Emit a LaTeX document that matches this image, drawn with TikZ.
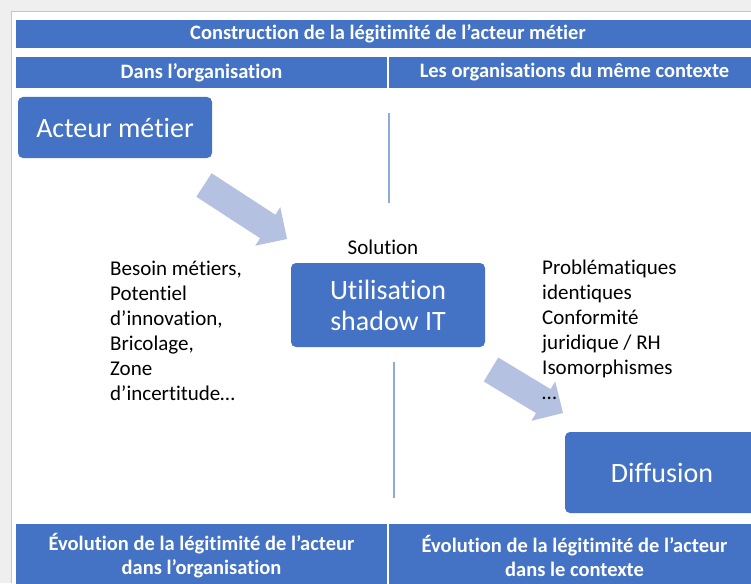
\documentclass[tikz,border=0pt]{standalone}
\usepackage{fontspec}
\setmainfont{Carlito}[Ligatures=NoCommon]
\usetikzlibrary{calc,positioning}
\definecolor{bleu}{HTML}{4472C4}
\definecolor{bleuclair}{HTML}{B4C1E0}
\definecolor{trait}{HTML}{8FAADC}
\definecolor{ombre}{HTML}{EFEFEF}
% flèche pleine : #2 = queue, #3 = pointe
\newcommand{\fleche}[3][14pt]
	{
	\coordinate (fh) at ($(#3)!23pt!(#2)$);%base de la tête
	\fill[bleuclair] ($(#2)!#1!90:(#3)$) -- ($(fh)!#1!90:(#3)$) -- ($(fh)!23pt!90:(#3)$) -- (#3)
		-- ($(fh)!23pt!-90:(#3)$) -- ($(fh)!#1!-90:(#3)$) -- ($(#2)!#1!-90:(#3)$) -- cycle;
	}

\begin{document}
\begin{tikzpicture}[x=1pt,y=-1pt,
	boite/.style={fill=bleu, rounded corners=5pt, text=white, align=center, inner sep=0pt,
		minimum width=194pt, font=\fontsize{28}{31}\selectfont},
	bandeau/.style={fill=bleu, text=white, align=center, inner sep=0pt,
		font=\bfseries\fontsize{20.5}{24}\selectfont},
	texte/.style={align=left, inner sep=0pt, anchor=north west, font=\fontsize{21}{25}\selectfont}]

\useasboundingbox (0,0) rectangle (751,583);
\clip (0,0) rectangle (751,583);

% fond et ombre de la page
\fill[ombre] (0,0) rectangle (751,583);
\fill[white] (11,11) rectangle (751,583);
\draw[gray!45] (11,583) -- (11,11) -- (751,11);

% bandeaux du tableau
\node[bandeau, minimum width=744pt, minimum height=28pt] (titre) at (388,34) {Construction de la légitimité de l’acteur métier};
\node[bandeau, minimum width=371pt, minimum height=31pt] (orga) at (201.5,72.5) {Dans l’organisation};
\node[bandeau, minimum width=371pt, minimum height=31pt] (ctx) at (574.5,72.5) {Les organisations du même contexte};
\node[bandeau, minimum width=371pt, minimum height=64pt] (evolorga) at (201.5,556) {Évolution de la légitimité de l’acteur\\dans l’organisation};
\node[bandeau, minimum width=371pt, minimum height=64pt] (evolctx) at (574.5,556) {Évolution de la légitimité de l’acteur\\dans le contexte};

% séparations verticales
\coordinate (s1) at (389,113);
\coordinate (s2) at (389,203);
\coordinate (s3) at (394,362);
\coordinate (s4) at (394,498);
\draw[trait, line width=1.5pt] (s1) -- (s2);
\draw[trait, line width=1.5pt] (s3) -- (s4);

% flèches
\coordinate (q1) at (204,185);
\coordinate (p1) at (287,239);
\coordinate (q2) at (491,369.5);
\coordinate (p2) at (563,413);
\fleche{q1}{p1}
\fleche{q2}{p2}

% boîtes
\node[boite, minimum height=61pt] (acteur) at (115,127.5) {Acteur métier};
\node[boite, minimum height=84pt] (usage) at (388,305) {Utilisation\\shadow IT};
\node[boite, minimum height=81pt] (diffusion) at (662,472.5) {Diffusion};

% textes
\node[font=\fontsize{21}{25}\selectfont] (solution) at (383,247) {Solution};
\node[texte] (besoins) at (110,261) {Besoin métiers,\\Potentiel\\d’innovation,\\Bricolage,\\Zone\\d’incertitude…};
\node[texte] (contexte) at (542,260) {Problématiques\\identiques\\Conformité\\juridique / RH\\Isomorphismes\\{}…};

\end{tikzpicture}
\end{document}
